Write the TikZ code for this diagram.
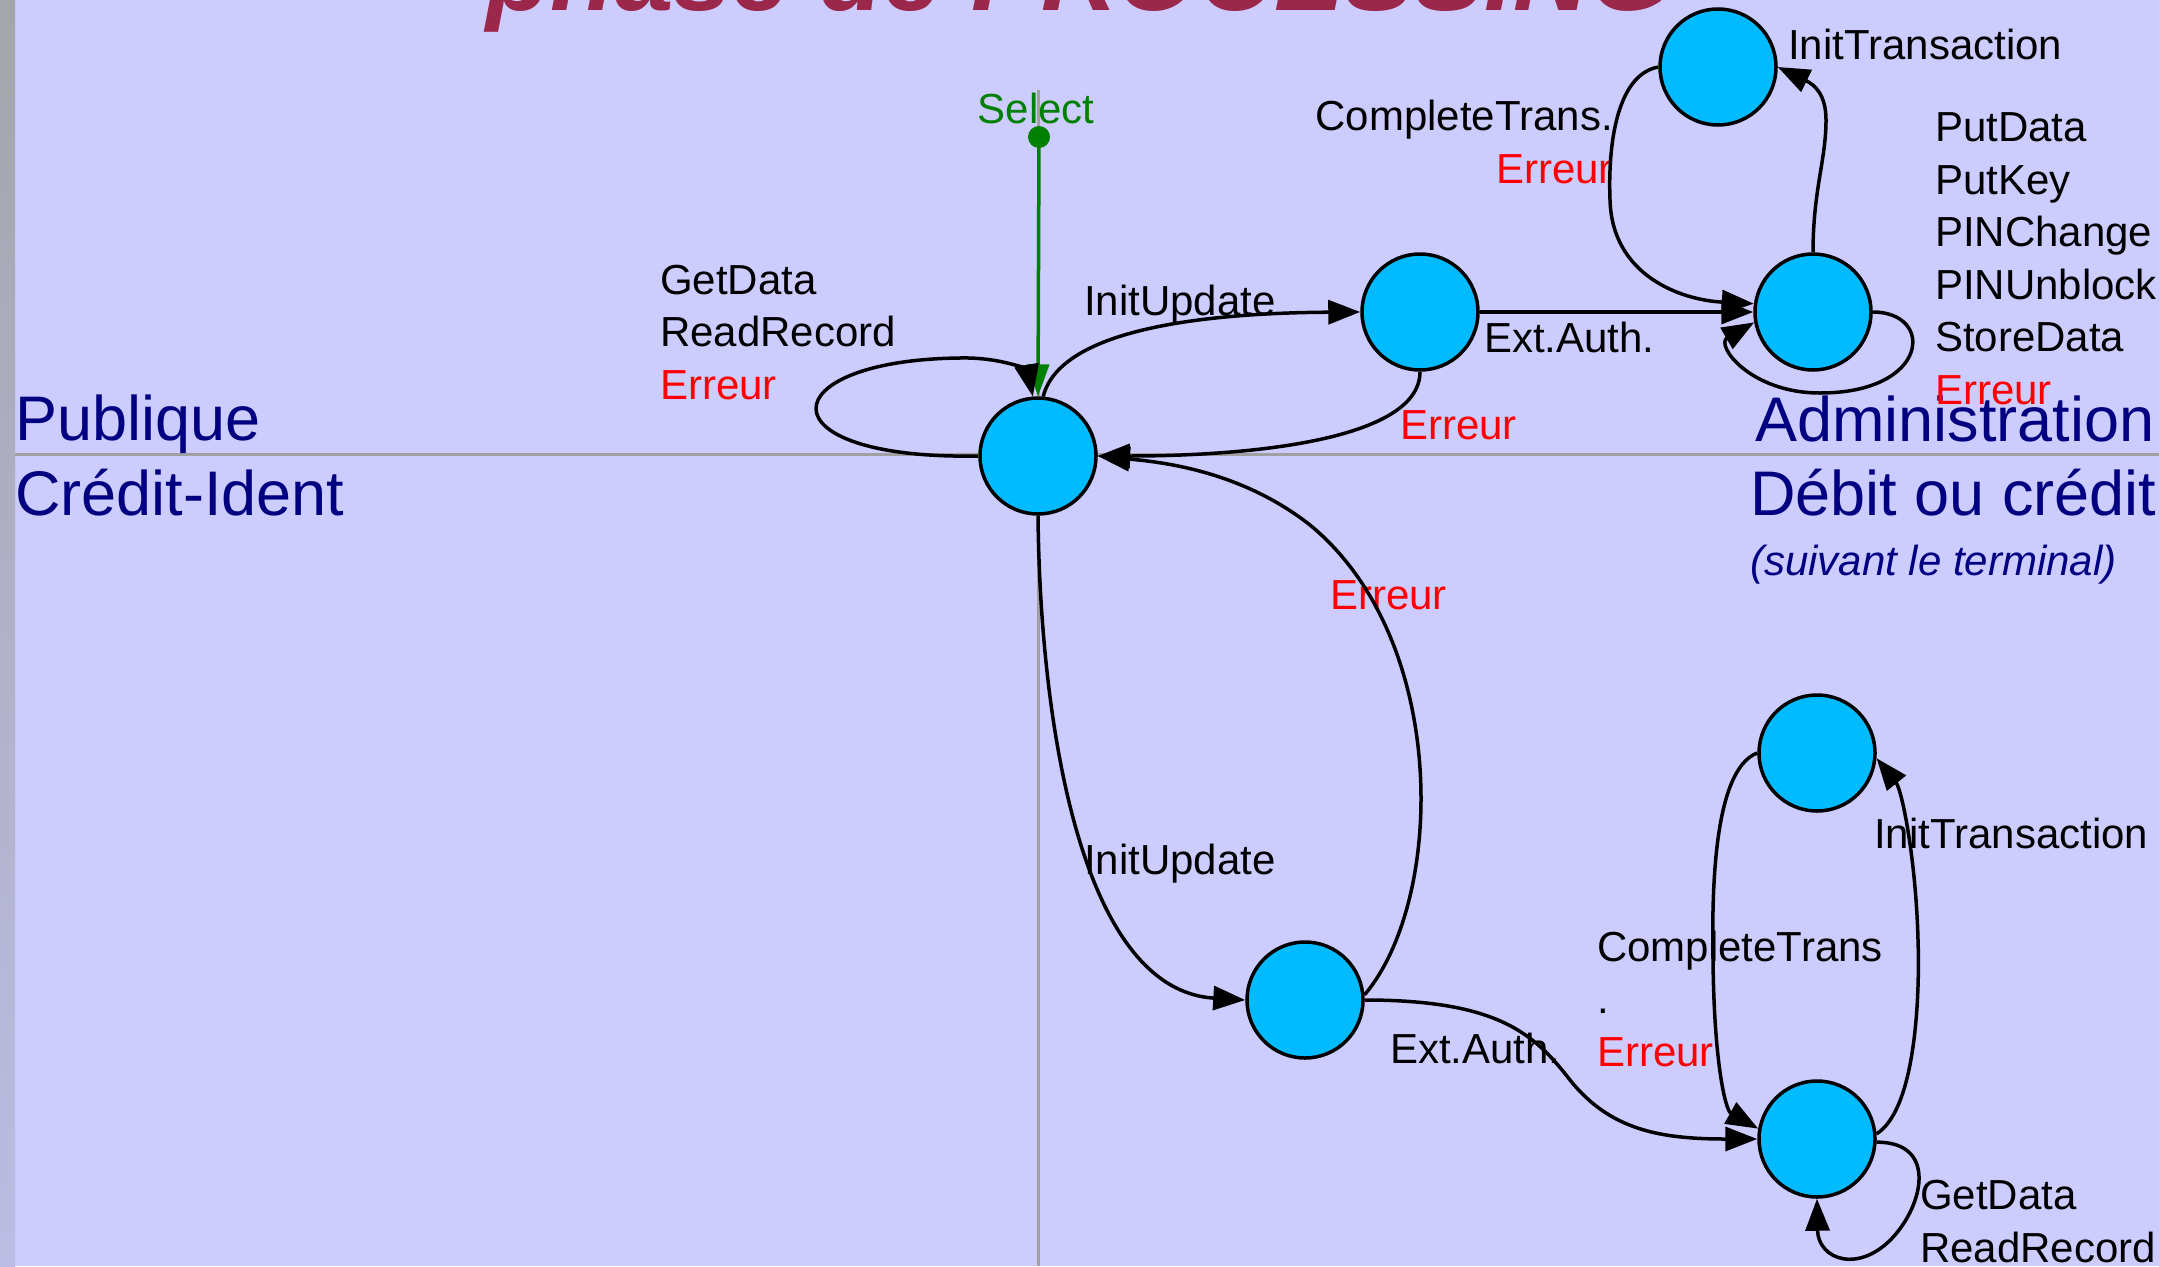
\documentclass[tikz,border=0pt]{standalone}
\usepackage{fontspec}
\setmainfont{Liberation Sans}
\usetikzlibrary{arrows.meta}
\definecolor{fond}{RGB}{204,204,255}
\definecolor{bleuetat}{RGB}{0,187,255}
\definecolor{titre}{RGB}{155,40,75}
\definecolor{marine}{RGB}{0,0,128}
\definecolor{vert}{RGB}{0,128,0}
\definecolor{trait}{RGB}{160,160,160}
\definecolor{bandeH}{RGB}{165,165,172}
\definecolor{bandeB}{RGB}{188,188,228}
\begin{document}
\begin{tikzpicture}[x=1pt,y=-1pt,
  etat/.style={draw, circle, fill=bleuetat, line width=3.5pt, minimum size=116pt, inner sep=0pt},
  lbl/.style={anchor=base west, inner sep=0pt, align=left, font=\fontsize{42}{52.5}\selectfont},
  zone/.style={anchor=base west, inner sep=0pt, text=marine, font=\fontsize{63}{70}\selectfont},
  trans/.style={draw, line width=3.5pt, -{Triangle[length=32pt,width=24pt]}}]
\useasboundingbox (0,0) rectangle (2159,1266);
\fill[fond] (0,0) rectangle (2159,1266);
\shade[top color=bandeH, bottom color=bandeB] (0,0) rectangle (15,1266);
\node[anchor=base, inner sep=0pt, text=titre, font=\fontsize{105}{115}\selectfont\bfseries\itshape] (titre) at (1079,10) {phase de PROCESSING};

\draw[trait, line width=3pt] (15,454) -- (2159,454);
\draw[trait, line width=3pt] (1038,90) -- (1038,1266);

\node[zone] (pub) at (15,440) {Publique};
\node[zone] (cred) at (15,515) {Crédit-Ident};
\node[zone] (adm) at (1755,441) {Administration};
\node[zone] (deb) at (1750,515) {Débit ou crédit};
\node[anchor=base west, inner sep=0pt, text=marine, font=\fontsize{42}{50}\selectfont\itshape] (suiv) at (1750,575) {(suivant le terminal)};

% les lignes multiples sont posees sur leur derniere ligne
\node[lbl] (t1) at (660,399) {GetData\\ReadRecord\\\textcolor{red}{Erreur}};
\node[lbl] (t2) at (1084,315) {InitUpdate};
\node[lbl] (t3) at (1400,439) {\textcolor{red}{Erreur}};
\node[lbl] (t4) at (1484,352) {Ext.Auth.};
\node[lbl, anchor=base east, align=right] (t5) at (1613,183) {CompleteTrans.\\\textcolor{red}{Erreur}};
\node[lbl] (t6) at (1788,59) {InitTransaction};
\node[lbl] (t7) at (1935,404) {PutData\\PutKey\\PINChange\\PINUnblock\\StoreData\\\textcolor{red}{Erreur}};
\node[lbl] (t8) at (1330,609) {\textcolor{red}{Erreur}};
\node[lbl] (t9) at (1084,874) {InitUpdate};
\node[lbl] (t10) at (1390,1063) {Ext.Auth.};
\node[lbl] (t11) at (1597,1066) {CompleteTrans\\.\\\textcolor{red}{Erreur}};
\node[lbl] (t12) at (1874,848) {InitTransaction};
\node[lbl] (t13) at (1920,1262) {GetData\\ReadRecord};
\node[lbl, anchor=base, text=vert] (sel) at (1036,123) {Select};

\node[etat] (1) at (1038,456) {};
\node[etat] (2) at (1420,312) {};
\node[etat] (3) at (1813,312) {};
\node[etat] (4) at (1718,67) {};
\node[etat] (5) at (1305,1000) {};
\node[etat] (6) at (1817,753) {};
\node[etat] (7) at (1817,1139) {};
\node[circle, fill=vert, minimum size=22pt, inner sep=0pt] (0) at (1039,137) {};

\path[draw, vert, line width=3.5pt, -{Triangle[length=32pt,width=22pt]}] (0) -- (1.north);
\path[trans] (1.180) .. controls (760,460) and (770,360) .. (960,358) .. controls (1005,357) and (1028,372) .. (1.95);
\path[trans] (1.85) .. controls (1060,330) and (1200,313) .. (2.west);
\path[trans] (2.south) .. controls (1420,440) and (1250,456) .. (1.east);
\path[trans] (2.east) -- (3.west);
\path[trans] (3.east) .. controls (1935,312) and (1930,393) .. (1820,393) .. controls (1750,393) and (1715,345) .. (3.190);
\path[trans] (3.north) .. controls (1813,190) and (1826,160) .. (1826,120) .. controls (1826,95) and (1815,85) .. (4.east);
\path[trans] (4.west) .. controls (1615,75) and (1608,150) .. (1610,200) .. controls (1612,275) and (1680,300) .. (3.172);
\path[trans] (1.south) .. controls (1040,720) and (1080,990) .. (5.west);
\path[trans] (5.5) .. controls (1445,900) and (1450,640) .. (1310,525) .. controls (1240,470) and (1160,462) .. (1.east);
\path[trans] (5.east) .. controls (1500,1000) and (1535,1035) .. (1570,1080) .. controls (1610,1130) and (1660,1139) .. (7.west);
\path[trans] (6.west) .. controls (1712,770) and (1712,900) .. (1713,960) .. controls (1714,1060) and (1725,1110) .. (7.170);
\path[trans] (7.5) .. controls (1915,1110) and (1920,1000) .. (1918,940) .. controls (1916,860) and (1902,790) .. (6.-5);
\path[trans] (7.-3) .. controls (1935,1142) and (1925,1200) .. (1895,1235) .. controls (1860,1275) and (1818,1260) .. (7.south);
%\path[trans] (4) -- (3);
\end{tikzpicture}
\end{document}
